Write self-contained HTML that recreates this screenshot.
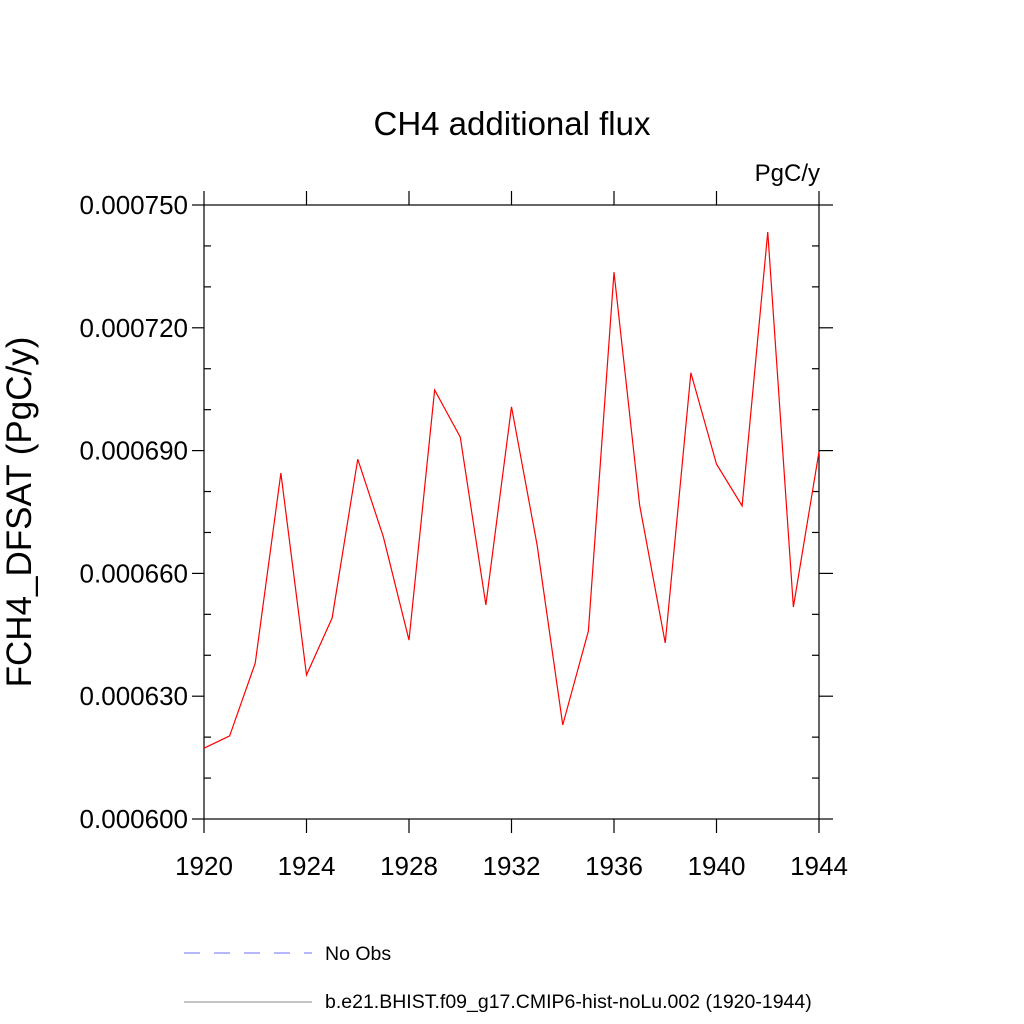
<!DOCTYPE html>
<html><head><meta charset="utf-8"><style>
body{margin:0;background:#fff;}
svg{display:block;font-family:"Liberation Sans",sans-serif;}
</style></head><body>
<svg id="chart" width="1024" height="1024" viewBox="0 0 1024 1024">
<text x="512" y="135" font-size="33" text-anchor="middle">CH4 additional flux</text>
<text x="820" y="181" font-size="24" text-anchor="end">PgC/y</text>
<text transform="translate(31,512) rotate(-90)" font-size="35" text-anchor="middle">FCH4_DFSAT  (PgC/y)</text>
<rect x="204" y="205" width="615" height="614" fill="none" stroke="#000" stroke-width="1.2"/>
<g id="axes"></g>
<polyline id="series" fill="none" stroke="#ff0000" stroke-width="1.2"/>
<line x1="184" y1="953" x2="312" y2="953" stroke="#6f6fff" stroke-width="1" stroke-dasharray="16,14"/>
<text x="325" y="960" font-size="19.5">No Obs</text>
<line x1="184" y1="1002" x2="312" y2="1002" stroke="#888" stroke-width="1"/>
<text x="325" y="1008" font-size="19.5">b.e21.BHIST.f09_g17.CMIP6-hist-noLu.002 (1920-1944)</text>
</svg>
<script>
const years=[1920,1921,1922,1923,1924,1925,1926,1927,1928,1929,1930,1931,1932,1933,1934,1935,1936,1937,1938,1939,1940,1941,1942,1943,1944];
const values=[0.0006173,0.0006203,0.0006381,0.0006845,0.0006352,0.0006491,0.0006879,0.0006689,0.0006437,0.0007048,0.0006933,0.0006523,0.0007007,0.0006669,0.0006230,0.0006459,0.0007336,0.0006767,0.0006430,0.0007090,0.0006867,0.0006765,0.0007434,0.0006518,0.0006897];
const xTicks=[1920,1924,1928,1932,1936,1940,1944];
const yTicks=[0.0006,0.00063,0.00066,0.00069,0.00072,0.00075];
const yTickLabels=["0.000600","0.000630","0.000660","0.000690","0.000720","0.000750"];
const X0=204,X1=819,Y0=819,Y1=205,xmin=1920,xmax=1944,ymin=0.0006,ymax=0.00075;
const xs=v=>X0+(v-xmin)/(xmax-xmin)*(X1-X0);
const ys=v=>Y0-(v-ymin)/(ymax-ymin)*(Y0-Y1);
const NS="http://www.w3.org/2000/svg";
const g=document.getElementById('axes');
function ln(x1,y1,x2,y2,name){const l=document.createElementNS(NS,'line');
l.setAttribute('x1',x1);l.setAttribute('y1',y1);l.setAttribute('x2',x2);l.setAttribute('y2',y2);
l.setAttribute('stroke','#000');l.setAttribute('stroke-width','1.2');


g.appendChild(l);}
function tx(x,y,s,anchor,name){const t=document.createElementNS(NS,'text');
t.setAttribute('x',x);t.setAttribute('y',y);t.setAttribute('font-size','26');t.setAttribute('text-anchor',anchor);t.textContent=s;


g.appendChild(t);}
xTicks.forEach(v=>{const x=xs(v);ln(x,Y0,x,Y0+14,'x-tick');ln(x,Y1,x,Y1-14,'x-tick-top');tx(x,875,String(v),'middle','x-tick-label');});
yTicks.forEach((v,i)=>{const y=ys(v);ln(X0-12,y,X0,y,'y-tick');ln(X1,y,X1+14,y,'y-tick-right');tx(X0-16,y+9,yTickLabels[i],'end','y-tick-label');});
for(let i=0;i<yTicks.length-1;i++){for(let k=1;k<3;k++){const y=ys(yTicks[i]+(yTicks[i+1]-yTicks[i])*k/3);ln(X0,y,X0+7,y,'y-minor-tick');ln(X1-7,y,X1,y,'y-minor-tick-right');}}
document.getElementById('series').setAttribute('points',years.map((yr,i)=>xs(yr)+','+ys(values[i])).join(' '));
</script>
</body></html>
